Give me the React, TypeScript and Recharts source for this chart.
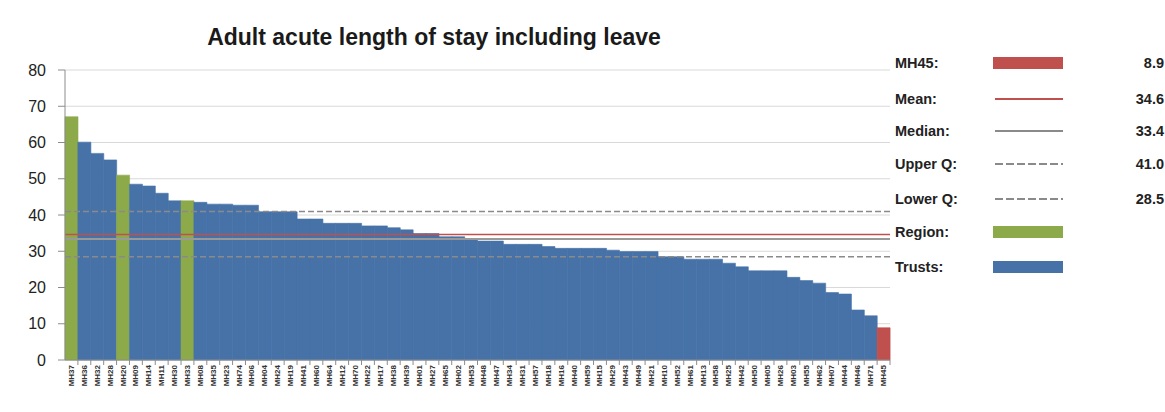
import React from 'react';
import {
  BarChart, Bar, Cell, XAxis, YAxis, CartesianGrid, ReferenceLine,
} from 'recharts';

// Trust codes, ordered by length of stay
const categories = [
  'MH37', 'MH36', 'MH32', 'MH28', 'MH20', 'MH09', 'MH14', 'MH11', 'MH30', 'MH33',
  'MH08', 'MH35', 'MH23', 'MH74', 'MH06', 'MH04', 'MH24', 'MH19', 'MH41', 'MH60',
  'MH64', 'MH12', 'MH70', 'MH22', 'MH17', 'MH38', 'MH39', 'MH01', 'MH27', 'MH65',
  'MH02', 'MH53', 'MH48', 'MH47', 'MH34', 'MH31', 'MH57', 'MH18', 'MH16', 'MH40',
  'MH59', 'MH15', 'MH29', 'MH43', 'MH49', 'MH21', 'MH10', 'MH52', 'MH61', 'MH13',
  'MH58', 'MH25', 'MH42', 'MH50', 'MH05', 'MH26', 'MH03', 'MH55', 'MH62', 'MH07',
  'MH44', 'MH46', 'MH71', 'MH45',
];

const stayValues = [
  67.1, 60.1, 57.0, 55.2, 51.0, 48.5, 48.0, 46.0, 43.9, 43.9,
  43.5, 43.0, 43.0, 42.7, 42.7, 40.9, 40.9, 40.9, 38.9, 38.9,
  37.7, 37.7, 37.7, 37.0, 37.0, 36.5, 35.9, 34.9, 34.9, 34.0,
  34.0, 33.4, 32.8, 32.8, 31.9, 31.9, 31.9, 31.3, 30.8, 30.8,
  30.8, 30.8, 30.3, 29.9, 29.9, 29.9, 28.5, 28.5, 27.8, 27.8,
  27.8, 26.7, 25.7, 24.6, 24.6, 24.6, 22.8, 21.9, 21.2, 18.6,
  18.2, 13.8, 12.2, 8.9,
];

const regionCategories = ['MH37', 'MH20', 'MH33'];
const focusCategory = 'MH45';

const meanValue = 34.6;
const medianValue = 33.4;
const upperQuartile = 41.0;
const lowerQuartile = 28.5;

const yTicks = [0, 10, 20, 30, 40, 50, 60, 70, 80];

const BLUE = '#4672A8';
const GREEN = '#8DAA4B';
const RED = '#C0504D';
const GREY = '#8C8C8C';
const FONT = "'Liberation Sans', Arial, sans-serif";

const CHART_W = 900;
const CHART_H = 412;
const PLOT_LEFT = 65;
const PLOT_RIGHT = 890;
const BAND = (PLOT_RIGHT - PLOT_LEFT) / categories.length;

const data = categories.map((name, i) => ({ name, value: stayValues[i] }));

const barColor = (name: string) => {
  if (name === focusCategory) return RED;
  if (regionCategories.includes(name)) return GREEN;
  return BLUE;
};

const CategoryTick = ({ x, y, payload }: { x: number; y: number; payload: { value: string } }) => (
  <g>
    <line x1={x + BAND / 2} x2={x + BAND / 2} y1={y} y2={y + 5} stroke={GREY} />
    <text
      x={x}
      y={y + 5}
      transform={`rotate(-90, ${x}, ${y + 5})`}
      textAnchor="end"
      dominantBaseline="central"
      fontSize={8}
      fontWeight={700}
      fontFamily={FONT}
      fill="#333"
    >
      {payload.value}
    </text>
  </g>
);

const focusValue = stayValues[categories.indexOf(focusCategory)];

const legendRows = [
  { label: `${focusCategory}:`, kind: 'box', color: RED, value: focusValue.toFixed(1), y: 63 },
  { label: 'Mean:', kind: 'line', color: RED, value: meanValue.toFixed(1), y: 99 },
  { label: 'Median:', kind: 'line', color: '#8a8a8a', value: medianValue.toFixed(1), y: 131 },
  { label: 'Upper Q:', kind: 'dash', color: '#8a8a8a', value: upperQuartile.toFixed(1), y: 164 },
  { label: 'Lower Q:', kind: 'dash', color: '#8a8a8a', value: lowerQuartile.toFixed(1), y: 199 },
  { label: 'Region:', kind: 'box', color: GREEN, value: '', y: 232 },
  { label: 'Trusts:', kind: 'box', color: BLUE, value: '', y: 267 },
];

const textStyle: React.CSSProperties = {
  position: 'absolute', fontFamily: FONT, fontWeight: 700, fontSize: 14.5,
  color: '#222', whiteSpace: 'nowrap', lineHeight: '18px',
};

const LegendPanel = () => (
  <>
    {legendRows.map((r) => (
      <React.Fragment key={r.label}>
        <div style={{ ...textStyle, left: 895, top: r.y - 9 }}>{r.label}</div>
        <svg style={{ position: 'absolute', left: 992, top: r.y - 8 }} width={74} height={16}>
          {r.kind === 'box' && <rect x={1} y={2} width={70} height={12} fill={r.color} />}
          {r.kind === 'line' && <line x1={3} x2={71} y1={8} y2={8} stroke={r.color} strokeWidth={2} />}
          {r.kind === 'dash' && (
            <line x1={3} x2={71} y1={8} y2={8} stroke={r.color} strokeWidth={2} strokeDasharray="8 3" />
          )}
        </svg>
        {r.value && (
          <div style={{ ...textStyle, left: 1084, width: 80, textAlign: 'right', top: r.y - 9 }}>
            {r.value}
          </div>
        )}
      </React.Fragment>
    ))}
  </>
);

export default function App() {
  return (
    <div style={{ position: 'absolute', left: 0, top: 0, width: 1165, height: 412, background: '#fff', overflow: 'hidden' }}>
      <div
        style={{
          position: 'absolute', left: 0, width: 868, top: 23, textAlign: 'center',
          fontFamily: FONT, fontWeight: 700, fontSize: 23, color: '#1a1a1a', lineHeight: '28px',
        }}
      >
        Adult acute length of stay including leave
      </div>
      <BarChart
        width={CHART_W}
        height={CHART_H}
        data={data}
        margin={{ top: 70, right: CHART_W - PLOT_RIGHT, bottom: 0, left: 15 }}
        barCategoryGap={0}
        barGap={0}
      >
        <CartesianGrid vertical={false} stroke="#d9d9d9" />
        <XAxis
          dataKey="name"
          interval={0}
          height={52}
          tickSize={0}
          tickMargin={0}
          tickLine={false}
          axisLine={{ stroke: GREY }}
          tick={CategoryTick}
        />
        <YAxis
          width={50}
          domain={[0, 80]}
          ticks={yTicks}
          tickSize={7}
          tickMargin={12}
          axisLine={{ stroke: GREY }}
          tickLine={{ stroke: GREY }}
          tick={{ fontSize: 16, fill: '#222', fontFamily: FONT }}
        />
        <Bar dataKey="value" isAnimationActive={false}>
          {data.map((d) => (
            <Cell key={d.name} fill={barColor(d.name)} stroke={barColor(d.name)} strokeWidth={0.6} />
          ))}
        </Bar>
        <ReferenceLine y={upperQuartile} stroke="#8a8a8a" strokeWidth={1.5} strokeDasharray="6 3" />
        <ReferenceLine y={lowerQuartile} stroke="#8a8a8a" strokeWidth={1.5} strokeDasharray="6 3" />
        <ReferenceLine y={medianValue} stroke="#999" strokeWidth={2} />
        <ReferenceLine y={meanValue} stroke={RED} strokeWidth={1.5} />
      </BarChart>
      <LegendPanel />
    </div>
  );
}
